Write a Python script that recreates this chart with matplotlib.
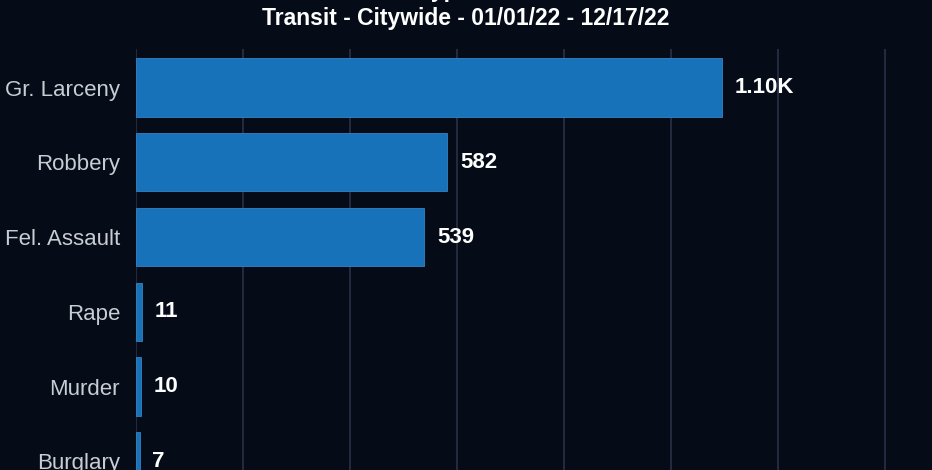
import numpy as np
import matplotlib.pyplot as plt

categories = ["Gr. Larceny", "Robbery", "Fel. Assault", "Rape", "Murder", "Burglary"]
values = [1095, 582, 539, 11, 10, 7]
value_labels = ["1.10K", "582", "539", "11", "10", "7"]
ticks = [0, 200, 400, 600, 800, 1000, 1200, 1400]

bg = "#050c18"
bar_color = "#1872ba"

plt.rcParams['font.family'] = ['Liberation Sans', 'DejaVu Sans']

fig = plt.figure(figsize=(9.32, 4.70), dpi=100)
fig.patch.set_facecolor(bg)
# axes runs past the bottom edge, the reference is cropped there
ax = fig.add_axes([136 / 932, 1 - 501 / 470, 1 - 136 / 932, 452 / 470])
ax.set_facecolor(bg)

y = np.arange(len(categories))
ax.barh(y, values, height=0.78, color=bar_color, edgecolor="#3583c4", linewidth=0.6, zorder=3)

for yi, v, lab in zip(y, values, value_labels):
    ax.annotate(lab, (v, yi), xytext=(9, 0), textcoords="offset points",
                va="center", ha="left", color="white", fontsize=16, fontweight="bold")

ax.set_yticks(y)
ax.set_yticklabels(categories, color="#c9ccd3", fontsize=16)
ax.set_ylim(len(categories) - 0.47, -0.515)
ax.set_xlim(0, 1488)
ax.set_xticks(ticks)
ax.xaxis.grid(True, color="#2a2c44", linewidth=1.3, zorder=0)
ax.tick_params(axis="y", length=0, pad=11.5)
ax.tick_params(axis="x", length=0, labelbottom=False)
for s in ax.spines.values():
    s.set_visible(False)

fig.text(0.5, 1 + 9 / 470, "Crime Subtype - Year to Date", ha="center", va="center",
         color="white", fontsize=16.5, fontweight="bold")
fig.text(0.5, 1 - 19 / 470, "Transit - Citywide - 01/01/22 - 12/17/22", ha="center", va="center",
         color="white", fontsize=16.5, fontweight="bold")

fig.savefig("out.png", dpi=100, facecolor=bg)
